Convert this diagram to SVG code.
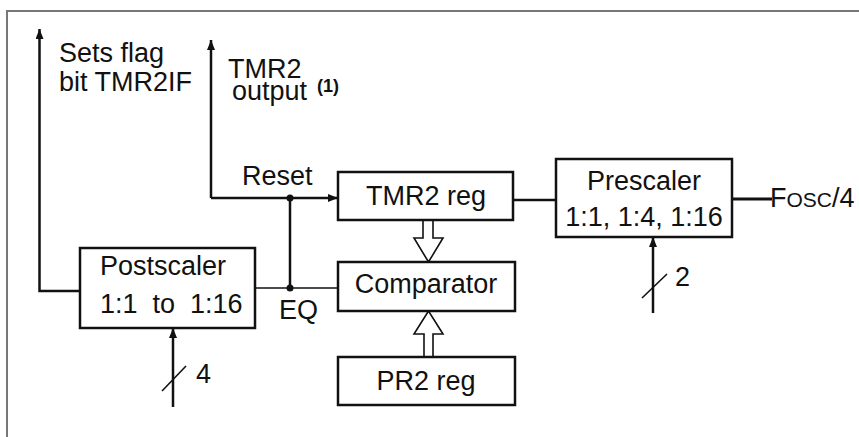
<svg xmlns="http://www.w3.org/2000/svg" width="859" height="437" viewBox="0 0 859 437">
<style>
text{font-family:"Liberation Sans",Arial,sans-serif;font-size:27px;fill:#111}
.box{fill:#fff;stroke:#111;stroke-width:2.5}
.w{fill:none;stroke:#111;stroke-width:2.5}
.t{fill:none;stroke:#111;stroke-width:1.6}
.fat{fill:#fff;stroke:#111;stroke-width:1.6}
.c{text-anchor:middle}
</style>
<defs>
<marker id="ah" viewBox="0 0 10 8" refX="10" refY="4" markerWidth="10" markerHeight="8" markerUnits="userSpaceOnUse" orient="auto">
<path d="M0,0 L10,4 L0,8 Z" fill="#111"/>
</marker>
</defs>
<rect width="859" height="437" fill="#fff"/>
<path d="M7,437 V11 H859" fill="none" stroke="#777" stroke-width="2"/>

<g id="connectors">
<path class="w" d="M80,291 H39.5 V29" marker-end="url(#ah)"/>
<path class="w" d="M211,198 V40" marker-end="url(#ah)"/>
<path class="w" d="M211,198 H338" marker-end="url(#ah)"/>
<path class="w" d="M290,198 V288"/>
<path class="t" d="M255,288 H338"/>
<circle cx="290" cy="198" r="3.5" fill="#111"/>
<circle cx="290" cy="288" r="3.5" fill="#111"/>
<path class="w" d="M513,200 H556"/>
<path d="M732,199 H772" fill="none" stroke="#111" stroke-width="3"/>
<path class="w" d="M173,407 V328" marker-end="url(#ah)"/>
<path class="t" d="M162,391 L186,366"/>
<path class="w" d="M653,313 V237" marker-end="url(#ah)"/>
<path class="t" d="M642,298 L667,274"/>
<path class="fat" d="M423,220 V238 H414 L428.5,262 L443,238 H433 V220"/>
<path class="fat" d="M424,357 V334 H414 L428.5,311 L443,334 H433 V357"/>
</g>

<g id="postscaler">
<rect class="box" x="80" y="248" width="175" height="80"/>
<text x="100" y="275">Postscaler</text>
<text x="100" y="313" xml:space="preserve">1:1  to  1:16</text>
</g>
<g id="tmr2reg">
<rect class="box" x="338" y="172" width="175" height="48"/>
<text class="c" x="426" y="205">TMR2 reg</text>
</g>
<g id="comparator">
<rect class="box" x="338" y="262" width="177" height="49"/>
<text class="c" x="426" y="293">Comparator</text>
</g>
<g id="pr2reg">
<rect class="box" x="338" y="357" width="177" height="48"/>
<text class="c" x="426" y="390">PR2 reg</text>
</g>
<g id="prescaler">
<rect class="box" x="556" y="159" width="176" height="78"/>
<text class="c" x="644" y="190">Prescaler</text>
<text class="c" x="644" y="226">1:1, 1:4, 1:16</text>
</g>

<g id="labels">
<text x="59" y="62">Sets flag</text>
<text x="59" y="91">bit TMR2IF</text>
<text x="228" y="78">TMR2</text>
<text x="232" y="100">output</text>
<text x="317" y="92" style="font-size:18px;font-weight:bold">(1)</text>
<text x="242" y="185">Reset</text>
<text x="279" y="319">EQ</text>
<text x="196" y="383">4</text>
<text x="675" y="286">2</text>
<text x="770" y="207">F<tspan style="font-size:21px">OSC</tspan>/4</text>
</g>
</svg>
